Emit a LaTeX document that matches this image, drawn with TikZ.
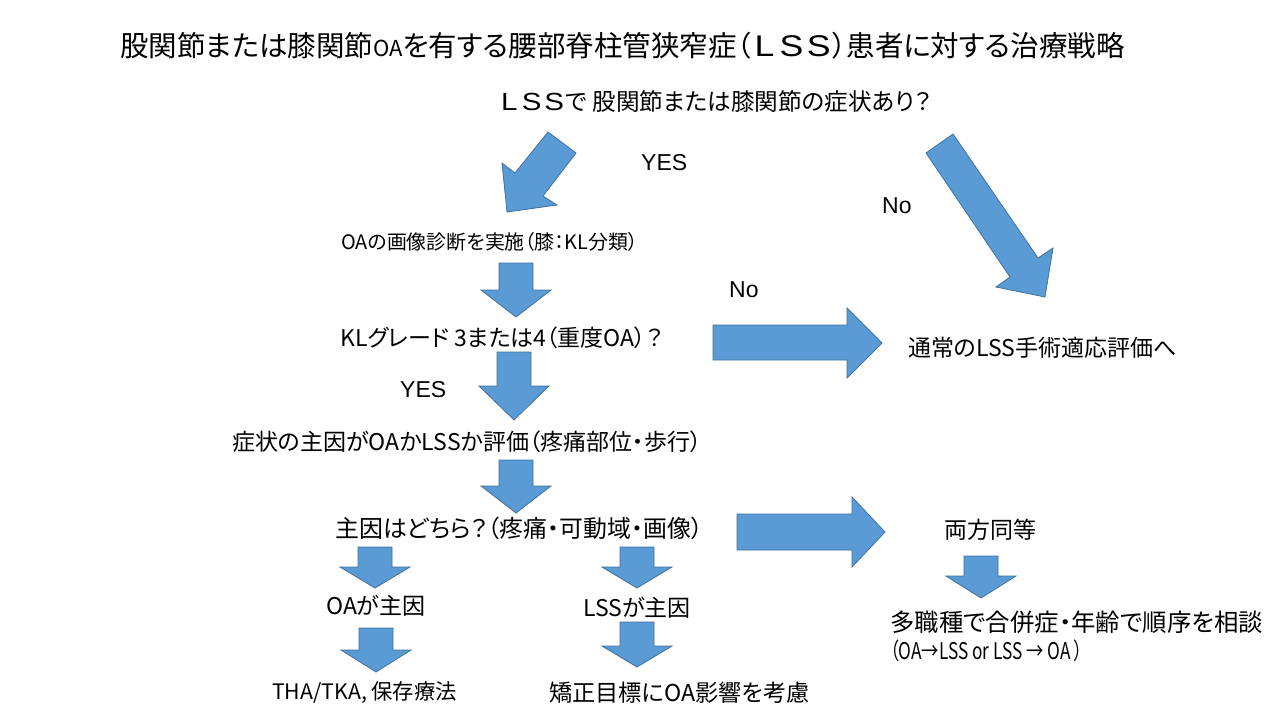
\documentclass[tikz,border=0pt]{standalone}
\usepackage{fontspec}
\setmainfont{Noto Sans CJK JP}[RawFeature=+palt]
\newfontfamily\arialf{Liberation Sans}
\newcommand\fw[1]{\makebox[0.95em]{\arialf\scalebox{1.25}[1.05]{#1}}}
\newcommand\fsz[1]{\fontsize{#1}{#1}\selectfont}
\tikzset{
  barrow/.style={fill=arrowblue, draw=arrowedge, line width=0.8pt, line join=miter},
  txt/.style={anchor=west, inner sep=0pt, font=\fsz{23}},
  yn/.style={anchor=west, inner sep=0pt, font=\arialf\fsz{23}},
}
\definecolor{arrowblue}{HTML}{5B9BD5}
\definecolor{arrowedge}{HTML}{41719C}
\newcommand\darr[4]{%
  \filldraw[barrow] ({#1-17},#2) -- ({#1+17},#2) -- ({#1+17},#3) -- ({#1+35},#3) -- (#1,#4) -- ({#1-35},#3) -- ({#1-17},#3) -- cycle;}
\begin{document}
\begin{tikzpicture}[x=1pt,y=-1pt]
\useasboundingbox[fill=white] (0,0) rectangle (1280,720);
% texts
\node[txt, font=\fsz{28.5}] (title) at (120,46) {股関節または膝関節{\fsz{22}OA}を有する腰部脊柱管狭窄症（\fw{L}\fw{S}\fw{S}）患者に対する治療戦略};
\node[txt, font=\fsz{23.6}] (q1) at (498,102) {\fw{L}\fw{S}\fw{S}で 股関節または膝関節の症状あり？};
\node[yn] (yes1) at (641,163) {YES};
\node[yn] (no1) at (882,206) {No};
\node[txt, font=\fsz{19.9}] (img) at (341,242) {OAの画像診断を実施（膝：KL分類）};
\node[yn] (no2) at (729,290) {No};
\node[txt] (kl) at (340,338) {KLグレード 3または4（重度OA）？};
\node[yn] (yes2) at (400,390) {YES};
\node[txt] (normal) at (908,348) {通常のLSS手術適応評価へ};
\node[txt] (eval) at (232,442) {症状の主因がOAかLSSか評価（疼痛部位・歩行）};
\node[txt, font=\fsz{23.9}] (which) at (335,528) {主因はどちら？（疼痛・可動域・画像）};
\node[txt] (both) at (944,530) {両方同等};
\node[txt] (oa) at (326,606) {OAが主因};
\node[txt] (lss) at (583,608) {LSSが主因};
\node[txt, font=\fsz{24.4}] (multi) at (890,622) {多職種で合併症・年齢で順序を相談};
\node[txt, font=\fsz{23}] (order) at (890,651) {\scalebox{0.75}[1]{（OA→LSS or LSS → OA ）}};
\node[txt, font=\fsz{21.3}] (tha) at (272,693) {THA/TKA, 保存療法};
\node[txt, font=\fsz{23.2}] (corr) at (549,693) {矯正目標にOA影響を考慮};
% diagonal arrows
\filldraw[barrow] (548,132) -- (576,153) -- (543,196) -- (557,205) -- (507,212) -- (502,163) -- (515,173) -- cycle;
\filldraw[barrow] (926,153) -- (953,134) -- (1038,258) -- (1053,248) -- (1045,297) -- (996,287) -- (1010,277) -- cycle;
% right arrows
\filldraw[barrow] (713,325) -- (847,325) -- (847,308) -- (882,343) -- (847,378) -- (847,360) -- (713,360) -- cycle;
\filldraw[barrow] (737,514) -- (852,514) -- (852,497) -- (885,532) -- (852,567) -- (852,550) -- (737,550) -- cycle;
% down arrows
\darr{516}{263}{290}{317}
\darr{514}{352}{386}{420}
\darr{516}{460}{486}{513}
\darr{375}{547}{567}{588}
\darr{637}{547}{567}{588}
\darr{376}{628}{650}{672}
\darr{637}{622}{646}{667}
\darr{981}{556}{576}{598}
\end{tikzpicture}
\end{document}
